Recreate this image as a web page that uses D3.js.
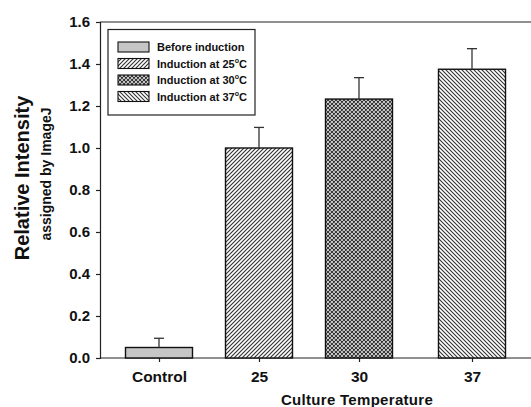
<!DOCTYPE html>
<head>
<meta charset="utf-8">
<title>Relative Intensity Chart</title>
<style>
body { margin: 0; background: #fff; }
text { font-family: Arial, "Liberation Sans", sans-serif; font-weight: bold; fill: #111; }
</style>
</head>
<body>
<svg id="chart" width="531" height="407"></svg>
<script src="https://cdn.jsdelivr.net/npm/d3@7/dist/d3.min.js"></script>
<script>
//----------------------------DATA------------------------------//
var categories = ["Control", "25", "30", "37"];
var values = [0.05, 1.0, 1.233, 1.375];
var errors = [0.044, 0.098, 0.102, 0.098];
var fills = ["gray", "diag", "cross", "back"];
var legendLabels = [["Before induction", ""], ["Induction at 25", "C"], ["Induction at 30", "C"], ["Induction at 37", "C"]];
var yTicks = [0.0, 0.2, 0.4, 0.6, 0.8, 1.0, 1.2, 1.4, 1.6];

//----------------------------SVG-------------------------------//
var svg = d3.select("svg");

var y = d3.scaleLinear().domain([0, 1.6]).range([358, 22]);
// bars sit at uneven spacing in the original, so a polylinear scale on index
var x = d3.scaleLinear().domain([0, 2, 3]).range([159, 359, 472]);
var barW = 67;

// patterns
var defs = svg.append("defs");
function hatch(id, d, w) {
    var p = defs.append("pattern").attr("id", id)
        .attr("patternUnits", "userSpaceOnUse")
        .attr("width", 4).attr("height", 4);
    p.append("rect").attr("width", 4).attr("height", 4).attr("fill", "#fff");
    p.append("path").attr("d", d).attr("stroke", "#333").attr("stroke-width", w);
}
hatch("diag", "M-1,1L1,-1M0,4L4,0M3,5L5,3", 1.15);
hatch("back", "M-1,3L1,5M0,0L4,4M3,-1L5,1", 1.1);
hatch("cross", "M-1,1L1,-1M0,4L4,0M3,5L5,3M-1,3L1,5M0,0L4,4M3,-1L5,1", 1.2);
function fillOf(f) { return f == "gray" ? "#c6c6c6" : "url(#" + f + ")"; }

//----------------------------AXES------------------------------//
// top frame line
svg.append("line").attr("x1", 100).attr("x2", 531).attr("y1", y(1.6)).attr("y2", y(1.6))
    .attr("stroke", "#222").attr("stroke-width", 1.2);

var yAxis = svg.append("g").attr("transform", "translate(100,0)")
    .call(d3.axisLeft(y).tickValues(yTicks).tickFormat(d3.format(".1f")).tickSize(4).tickPadding(6));
yAxis.select(".domain").attr("stroke", "#222").attr("stroke-width", 1.2);
yAxis.selectAll(".tick line").attr("stroke", "#222").attr("stroke-width", 1.2);
yAxis.selectAll(".tick text").style("font-size", "15px").attr("fill", "#111");
yAxis.attr("font-family", null);

var xAxis = svg.append("g").attr("transform", "translate(0,358)")
    .call(d3.axisBottom(d3.scaleLinear().domain(x.domain()).range(x.range()))
        .tickValues(d3.range(categories.length))
        .tickFormat(function (i) { return categories[i]; })
        .tickSize(4).tickPadding(9).tickSizeOuter(0));
xAxis.select(".domain").attr("d", "M100,0H531").attr("stroke", "#222").attr("stroke-width", 1.2);
xAxis.selectAll(".tick line").attr("stroke", "#222").attr("stroke-width", 1.2);
xAxis.selectAll(".tick text").style("font-size", "15.5px").attr("fill", "#111");
xAxis.attr("font-family", null);

//----------------------------BARS------------------------------//
var bars = svg.append("g");
bars.selectAll("rect").data(values).enter().append("rect")
    .attr("x", function (d, i) { return x(i) - barW / 2; })
    .attr("y", function (d) { return y(d); })
    .attr("width", barW)
    .attr("height", function (d) { return y(0) - y(d); })
    .attr("fill", function (d, i) { return fillOf(fills[i]); })
    .attr("stroke", "#111").attr("stroke-width", 1.4);

// error bars (upper only)
var err = svg.append("g").attr("stroke", "#333").attr("stroke-width", 1.3);
values.forEach(function (v, i) {
    err.append("line").attr("x1", x(i)).attr("x2", x(i))
        .attr("y1", y(v)).attr("y2", y(v + errors[i]));
    err.append("line").attr("x1", x(i) - 5).attr("x2", x(i) + 5)
        .attr("y1", y(v + errors[i])).attr("y2", y(v + errors[i]));
});

//---------------------------LEGEND-----------------------------//
var lg = svg.append("g");
lg.append("rect").attr("x", 108).attr("y", 29.5).attr("width", 147).attr("height", 85.5)
    .attr("fill", "#fff").attr("stroke", "#222").attr("stroke-width", 1.2);
var rowY = d3.scaleLinear().domain([0, 3]).range([47, 96.5]);
legendLabels.forEach(function (l, i) {
    lg.append("rect").attr("x", 118).attr("y", rowY(i) - 5).attr("width", 31).attr("height", 10)
        .attr("fill", fillOf(fills[i])).attr("stroke", "#111").attr("stroke-width", 1.1);
    var t = lg.append("text").attr("x", 157).attr("y", rowY(i) + 4)
        .style("font-size", "11px").text(l[0]);
    if (l[1]) {
        t.append("tspan").attr("dy", -5).style("font-size", "7px").text("o");
        t.append("tspan").attr("dy", 5).text(l[1]);
    }
});

//---------------------------TITLES-----------------------------//
svg.append("text").attr("text-anchor", "middle")
    .attr("x", 357).attr("y", 405)
    .style("font-size", "15px").style("letter-spacing", "0.3px")
    .text("Culture Temperature");
svg.append("text").attr("text-anchor", "middle")
    .attr("transform", "translate(22,178) rotate(-90)").attr("dy", "0.36em")
    .style("font-size", "20px").text("Relative Intensity");
svg.append("text").attr("text-anchor", "middle")
    .attr("transform", "translate(46,174) rotate(-90)").attr("dy", "0.36em")
    .style("font-size", "14px").text("assigned by ImageJ");
</script>
</body>
